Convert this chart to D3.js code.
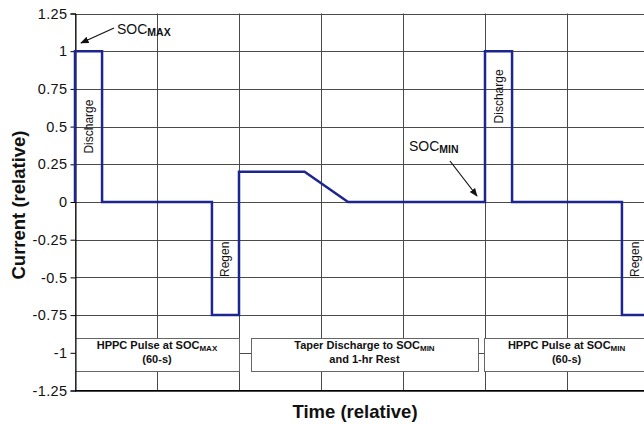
<!DOCTYPE html>
<html>
<head>
<meta charset="utf-8">
<script src="https://cdn.jsdelivr.net/npm/d3@7"></script>
<style>
  body { margin: 0; background: #fff; }
  text { font-family: Arial, "Liberation Sans", sans-serif; }
</style>
</head>
<body>
<div class="chart"></div>
<script>
// data (time in grid units)
var timePoints = [0, 0, 0.33, 0.33, 1.67, 1.67, 2, 2, 2.8, 3.33, 5, 5, 5.33, 5.33, 6.67, 6.67, 7];
var currentValues = [0, 1, 1, 0, 0, -0.75, -0.75, 0.2, 0.2, 0, 0, 1, 1, 0, 0, -0.75, -0.75];
var yTicks = [1.25, 1, 0.75, 0.5, 0.25, 0, -0.25, -0.5, -0.75, -1, -1.25];
var xGrid = [0, 1, 2, 3, 4, 5, 6, 7];
var pulseLabels = [
  { text: "Discharge", t: 0.167, v: 0.5 },
  { text: "Regen", t: 1.835, v: -0.38 },
  { text: "Discharge", t: 5.167, v: 0.7 },
  { text: "Regen", t: 6.835, v: -0.38 }
];
var phaseBoxes = [
  { t0: 0, t1: 2, line1: "HPPC Pulse at SOC", sub: "MAX", line2: "(60-s)" },
  { t0: 2.15, t1: 4.91, line1: "Taper Discharge to SOC", sub: "MIN", line2: "and 1-hr Rest" },
  { t0: 4.99, t1: 7, line1: "HPPC Pulse at SOC", sub: "MIN", line2: "(60-s)" }
];

var widthSVG = 644;
var heightSVG = 424;

var svg = d3.select(".chart")
  .append("svg")
  .attr("width", widthSVG)
  .attr("height", heightSVG);

var x = d3.scaleLinear().domain([0, 7]).range([75, 649]);
var y = d3.scaleLinear().domain([-1.25, 1.25]).range([390.5, 13.5]);

// arrow marker
svg.append("defs").append("marker")
  .attr("id", "arrow")
  .attr("viewBox", "0 0 10 10")
  .attr("refX", 9).attr("refY", 5)
  .attr("markerWidth", 7).attr("markerHeight", 7)
  .attr("orient", "auto")
  .append("path")
  .attr("d", "M0,1 L10,5 L0,9 z")
  .attr("fill", "#111");

// grid
svg.append("g").selectAll("line")
  .data(yTicks)
  .enter().append("line")
  .attr("x1", 75).attr("x2", widthSVG)
  .attr("y1", d => Math.round(y(d)) + 0.5)
  .attr("y2", d => Math.round(y(d)) + 0.5)
  .attr("stroke", "#4a4a4a").attr("stroke-width", 1);

svg.append("g").selectAll("line")
  .data(xGrid)
  .enter().append("line")
  .attr("x1", d => Math.round(x(d)) + 0.5)
  .attr("x2", d => Math.round(x(d)) + 0.5)
  .attr("y1", y(1.25)).attr("y2", y(-1.25))
  .attr("stroke", "#4a4a4a").attr("stroke-width", 1);

// phase boxes
var boxes = svg.append("g").selectAll("g")
  .data(phaseBoxes)
  .enter().append("g");

boxes.append("rect")
  .attr("x", d => Math.round(x(d.t0)) + 0.5)
  .attr("width", d => Math.round(x(d.t1)) - Math.round(x(d.t0)))
  .attr("y", Math.round(y(-0.9)) + 0.5)
  .attr("height", Math.round(y(-1.12)) - Math.round(y(-0.9)))
  .attr("fill", "#fff")
  .attr("stroke", "#666");

var boxText = boxes.append("text")
  .attr("x", d => (x(d.t0) + Math.min(x(d.t1), 649)) / 2)
  .attr("y", 348.5)
  .attr("text-anchor", "middle")
  .attr("font-size", 11)
  .attr("font-weight", "bold")
  .attr("fill", "#111");
boxText.append("tspan").text(d => d.line1);
boxText.append("tspan").attr("font-size", 8).attr("dy", 2).text(d => d.sub);

boxes.append("text")
  .attr("x", d => (x(d.t0) + Math.min(x(d.t1), 649)) / 2)
  .attr("y", 363)
  .attr("text-anchor", "middle")
  .attr("font-size", 11)
  .attr("font-weight", "bold")
  .attr("fill", "#111")
  .text(d => d.line2);

// y axis
var leftAxis = d3.axisLeft(y).tickValues(yTicks).tickSize(5).tickPadding(3)
  .tickFormat(d => String(d));
var yAxisG = svg.append("g")
  .attr("transform", "translate(75.5,0)")
  .call(leftAxis);
yAxisG.select(".domain").attr("stroke", "#000");
yAxisG.selectAll("text")
  .attr("font-size", 14.5)
  .attr("letter-spacing", 0.4)
  .attr("font-family", "Arial, 'Liberation Sans', sans-serif")
  .attr("fill", "#111");

// bottom axis line
svg.append("line")
  .attr("x1", 75).attr("x2", widthSVG)
  .attr("y1", y(-1.25)).attr("y2", y(-1.25))
  .attr("stroke", "#000");

// current profile
var line = d3.line()
  .x((d, i) => x(timePoints[i]))
  .y(d => y(d));

svg.append("path")
  .datum(currentValues)
  .attr("d", line)
  .attr("fill", "none")
  .attr("stroke", "#1c2590")
  .attr("stroke-width", 2.5)
  .attr("stroke-linejoin", "miter");

// rotated pulse labels
svg.append("g").selectAll("text")
  .data(pulseLabels)
  .enter().append("text")
  .attr("transform", d => `translate(${x(d.t) + 4}, ${y(d.v)}) rotate(-90)`)
  .attr("text-anchor", "middle")
  .attr("font-size", 12)
  .attr("fill", "#111")
  .text(d => d.text);

// SOC annotations
var socMax = svg.append("text").attr("x", 117).attr("y", 34)
  .attr("font-size", 14).attr("fill", "#111");
socMax.append("tspan").text("SOC");
socMax.append("tspan").attr("font-size", 10.5).attr("font-weight", "bold").attr("dy", 2).text("MAX");
svg.append("line")
  .attr("x1", 114).attr("y1", 28).attr("x2", 81).attr("y2", 43)
  .attr("stroke", "#111").attr("stroke-width", 1.2)
  .attr("marker-end", "url(#arrow)");

var socMin = svg.append("text").attr("x", 409).attr("y", 151)
  .attr("font-size", 14).attr("fill", "#111");
socMin.append("tspan").text("SOC");
socMin.append("tspan").attr("font-size", 10.5).attr("font-weight", "bold").attr("dy", 2).text("MIN");
svg.append("line")
  .attr("x1", 450).attr("y1", 161).attr("x2", 477).attr("y2", 196)
  .attr("stroke", "#111").attr("stroke-width", 1.2)
  .attr("marker-end", "url(#arrow)");

// axis titles
svg.append("text")
  .attr("transform", "translate(25, 205) rotate(-90)")
  .attr("text-anchor", "middle")
  .attr("font-size", 18.5)
  .attr("font-weight", "bold")
  .attr("fill", "#111")
  .text("Current (relative)");

svg.append("text")
  .attr("x", 355).attr("y", 418)
  .attr("text-anchor", "middle")
  .attr("font-size", 18.5)
  .attr("font-weight", "bold")
  .attr("fill", "#111")
  .text("Time (relative)");
</script>
</body>
</html>
